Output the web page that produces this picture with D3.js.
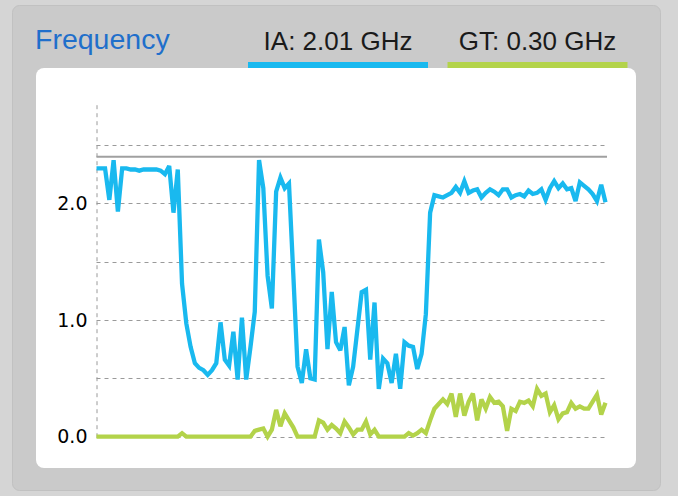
<!DOCTYPE html>
<html>
<head>
<meta charset="utf-8">
<script src="https://cdn.jsdelivr.net/npm/d3@7"></script>
<style>
html,body{margin:0;padding:0;background:#d5d5d5;}
svg{display:block;}
</style>
</head>
<body>
<svg id="chart" width="678" height="496"></svg>
<script>
// ---- data ----
const title = "Frequency";
const seriesNames = ["IA", "GT"];
const seriesLabels = ["IA: 2.01 GHz", "GT: 0.30 GHz"];
const seriesColors = ["#19b9ef", "#b3d34a"];
const yTicks = [0.0, 1.0, 2.0];
const yGrid = [0.5, 1.5, 2.5];
const maxFreq = 2.4;
const yMax = 2.86;

const iaGHz = [
  2.30,2.30,2.30,2.03,2.37,1.93,2.30,2.30,2.29,2.29,
  2.28,2.29,2.29,2.29,2.29,2.28,2.25,2.32,1.92,2.29,
  1.31,0.97,0.77,0.63,0.59,0.57,0.53,0.57,0.63,0.98,
  0.66,0.61,0.90,0.49,1.02,0.49,0.77,1.07,2.37,2.13,
  1.38,1.10,2.10,2.22,2.13,2.17,1.40,0.60,0.46,0.75,
  0.50,0.49,1.69,1.41,0.75,1.24,0.81,0.74,0.94,0.44,
  0.60,0.92,1.24,1.26,0.66,1.15,0.41,0.67,0.63,0.46,
  0.71,0.41,0.81,0.78,0.77,0.58,0.71,1.05,1.92,2.07,
  2.06,2.05,2.07,2.09,2.14,2.09,2.19,2.09,2.11,2.12,
  2.05,2.09,2.12,2.10,2.07,2.12,2.12,2.05,2.07,2.08,
  2.06,2.11,2.08,2.09,2.12,2.03,2.13,2.19,2.13,2.17,
  2.12,2.13,2.02,2.18,2.15,2.12,2.08,2.02,2.16,2.01
];
const gtGHz = [
  0,0,0,0,0,0,0,0,0,0,
  0,0,0,0,0,0,0,0,0,0,
  0.03,0,0,0,0,0,0,0,0,0,
  0,0,0,0,0,0,0,0.05,0.06,0.07,
  0,0.06,0.23,0.09,0.20,0.14,0.08,0,0,0,
  0,0,0.14,0.12,0.06,0.10,0.07,0.03,0.13,0.08,
  0.02,0.06,0.06,0.13,0.02,0.06,0,0,0,0,
  0,0,0,0.03,0.01,0.03,0.06,0.03,0.14,0.24,
  0.28,0.32,0.28,0.37,0.17,0.37,0.18,0.30,0.37,0.14,
  0.32,0.24,0.34,0.29,0.30,0.26,0.05,0.24,0.22,0.30,
  0.29,0.31,0.26,0.41,0.35,0.37,0.21,0.27,0.15,0.20,
  0.21,0.29,0.24,0.26,0.24,0.24,0.30,0.36,0.19,0.29
];

// ---- drawing ----
const svg = d3.select("#chart");

// outer panel
svg.append("rect").attr("x", 12.5).attr("y", 5.5).attr("width", 648).attr("height", 485)
  .attr("rx", 7).attr("fill", "#cacaca").attr("stroke", "#c1c1c1");

// title
svg.append("text").attr("x", 35).attr("y", 49)
  .attr("font-family", "'Helvetica Neue', Helvetica, 'Liberation Sans', Arial, sans-serif")
  .attr("font-size", 28.5).attr("fill", "#1f6fcb").text(title);

// legend
const legendCenters = [338, 537.5];
const legendWidth = 180;
seriesLabels.forEach((lab, k) => {
  svg.append("text").attr("x", legendCenters[k]).attr("y", 50)
    .attr("text-anchor", "middle")
    .attr("font-family", "'Helvetica Neue', Helvetica, 'Liberation Sans', Arial, sans-serif")
    .attr("font-size", 26).attr("fill", "#1a1a1a").text(lab);
  svg.append("rect").attr("x", legendCenters[k] - legendWidth / 2).attr("y", 62)
    .attr("width", legendWidth).attr("height", 7).attr("fill", seriesColors[k]);
});

// card
svg.append("rect").attr("x", 36).attr("y", 68).attr("width", 600).attr("height", 400)
  .attr("rx", 8).attr("fill", "#ffffff");

// scales
const N = iaGHz.length;
const x = d3.scaleLinear().domain([0, N - 1]).range([96.5, 605.5]);
const y = d3.scaleLinear().domain([0, yMax]).range([436.7, 103]);
const x0 = 96.5, x1 = 607;

// grid
const gridG = svg.append("g");
gridG.selectAll("line.h").data(yTicks.concat(yGrid)).enter().append("line")
  .attr("x1", x0).attr("x2", x1)
  .attr("y1", d => Math.round(y(d)) + 0.5).attr("y2", d => Math.round(y(d)) + 0.5)
  .attr("stroke", "#9a9a9a").attr("stroke-width", 1).attr("stroke-dasharray", "4,4");

// y axis (dashed vertical)
const yAxis = d3.axisLeft(y).tickValues(yTicks).tickFormat(d3.format(".1f")).tickSize(0).tickPadding(9);
const ag = svg.append("g").attr("transform", `translate(${x0},0)`).call(yAxis);
ag.select(".domain").attr("stroke", "#9a9a9a").attr("stroke-dasharray", "4,4").attr("stroke-width", 1);
ag.selectAll("text").attr("font-family", "'DejaVu Sans', Verdana, sans-serif")
  .attr("font-size", 19).attr("fill", "#000");

// max frequency line
svg.append("line").attr("x1", x0).attr("x2", x1).attr("y1", y(maxFreq)).attr("y2", y(maxFreq))
  .attr("stroke", "#a0a0a0").attr("stroke-width", 2);

// lines
const line = d3.line().x((d, i) => x(i)).y(d => y(d));
[gtGHz, iaGHz].forEach((s, k) => {
  svg.append("path").datum(s).attr("d", line).attr("fill", "none")
    .attr("stroke", seriesColors[1 - k]).attr("stroke-width", 4.3)
    .attr("stroke-linejoin", "miter").attr("stroke-miterlimit", 3);
});
</script>
</body>
</html>
